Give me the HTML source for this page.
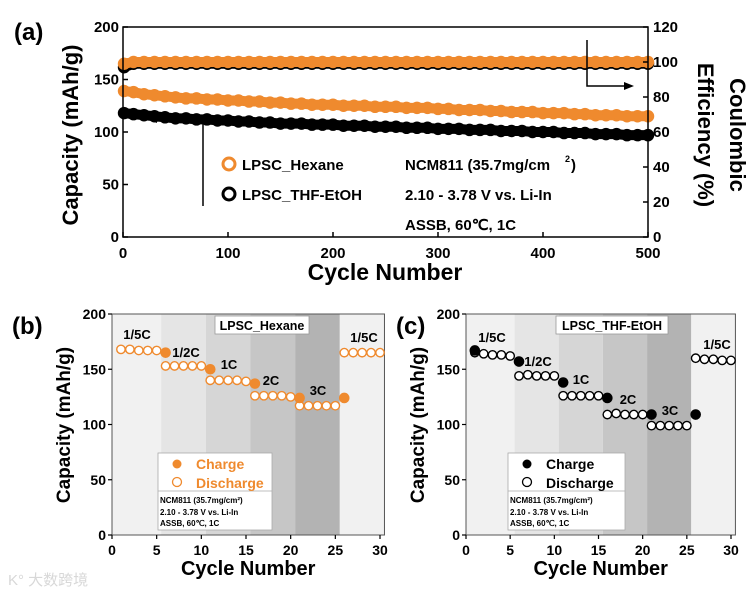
<!DOCTYPE html>
<html><head><meta charset="utf-8"><style>
html,body{margin:0;padding:0;background:#fff;}
svg{display:block;font-family:"Liberation Sans",Arial,sans-serif;}
</style></head><body>
<svg id="fig" width="754" height="593" viewBox="0 0 754 593" xmlns="http://www.w3.org/2000/svg"></svg>
<script>
// ---------- Panel (a) data ----------
const aCycles = [1,10,20,30,40,50,60,70,80,90,100,110,120,130,140,150,160,170,180,190,200,210,220,230,240,250,260,270,280,290,300,310,320,330,340,350,360,370,380,390,400,410,420,430,440,450,460,470,480,490,500];
const aHexCap = [139,138,136,135,134,133,132,132,131,131,130,130,129,129,128,128,127,127,126,126,126,125,125,125,124,124,124,123,123,123,122,122,121,121,121,120,120,119,119,119,118,118,118,117,117,116,116,116,115,115,115];
const aThfCap = [118,117,116,115,114,113,113,112,112,111,111,110,110,109,109,108,108,108,107,107,107,106,106,106,105,105,105,104,104,104,103,103,103,102,102,102,101,101,101,100,100,100,99,99,99,98,98,98,97,97,97];
const aHexCE = [99,100,100,100,100,100,100,100,100,100,100,100,100,100,100,100,100,100,100,100,100,100,100,100,100,100,100,100,100,100,100,100,100,100,100,100,100,100,100,100,100,100,100,100,100,100,100,100,100,100,100];
const aThfCE = [97,99,99,99,99,99,99,99,99,99,99,99,99,99,99,99,99,99,99,99,99,99,99,99,99,99,99,99,99,99,99,99,99,99,99,99,99,99,99,99,99,99,99,99,99,99,99,99,99,99,99];
const aXTicks = [0,100,200,300,400,500];
const aYTicks = [0,50,100,150,200];
const aY2Ticks = [0,20,40,60,80,100,120];

// ---------- Panel (b)/(c) data ----------
const rCycles = [1,2,3,4,5,6,7,8,9,10,11,12,13,14,15,16,17,18,19,20,21,22,23,24,25,26,27,28,29,30];
const bDischarge = [168,168,167,167,167,153,153,153,153,153,140,140,140,140,139,126,126,126,126,125,117,117,117,117,117,165,165,165,165,165];
const bChargeCycles = [6,11,16,21,26];
const bCharge = [165,150,137,124,124];
const cDischarge = [165,164,163,163,162,144,145,144,144,144,126,126,126,126,126,109,110,109,109,109,99,99,99,99,99,160,159,159,158,158];
const cChargeCycles = [1,6,11,16,21,26];
const cCharge = [167,157,138,124,109,109];
const rXTicks = [0,5,10,15,20,25,30];
const rYTicks = [0,50,100,150,200];
const rateLabels = ["1/5C","1/2C","1C","2C","3C","1/5C"];

const NS="http://www.w3.org/2000/svg";
const svg=document.getElementById('fig');
function el(tag,attrs,parent,text){const e=document.createElementNS(NS,tag);for(const k in attrs)e.setAttribute(k,attrs[k]);if(text!==undefined)e.textContent=text;(parent||svg).appendChild(e);return e;}
const OR="#ef8a2e";

// ===== Panel (a) =====
const A={x0:123,x1:648,y0:237,y1:27};
const ax=v=>A.x0+(v/500)*(A.x1-A.x0);
const ay=v=>A.y0-(v/200)*(A.y0-A.y1);
const ay2=v=>A.y0-(v/120)*(A.y0-A.y1);
const gA=el('g',{});


function band(xs,ys,fx,fy,color,name,g){
  const pl=el('polyline',{points:xs.map((c,i)=>fx(c)+','+fy(ys[i])).join(' '),fill:'none',stroke:color,'stroke-width':10,'stroke-linejoin':'round','stroke-linecap':'round'},g);
  
  
  xs.forEach((c,i)=>{const m=el('circle',{cx:fx(c),cy:fy(ys[i]),r:5,fill:'none',stroke:color,'stroke-width':2.5},g);
    
    });
}
band(aCycles,aThfCE,ax,ay2,'#000','thf-efficiency',gA);
band(aCycles,aHexCE,ax,ay2,OR,'hexane-efficiency',gA);
band(aCycles,aThfCap,ax,ay,'#000','thf-capacity',gA);
band(aCycles,aHexCap,ax,ay,OR,'hexane-capacity',gA);
el('rect',{x:A.x0,y:A.y1,width:A.x1-A.x0,height:A.y0-A.y1,fill:'none',stroke:'#000','stroke-width':1.5},gA);
aXTicks.forEach(t=>{el('line',{x1:ax(t),x2:ax(t),y1:A.y0,y2:A.y0-5,stroke:'#000','stroke-width':1.5},gA);
  const l=el('text',{x:ax(t),y:A.y0+21,'text-anchor':'middle','font-size':15,'font-weight':'bold'},gA,t);
  });
aYTicks.forEach(t=>{el('line',{x1:A.x0,x2:A.x0+5,y1:ay(t),y2:ay(t),stroke:'#000','stroke-width':1.5},gA);
  const l=el('text',{x:A.x0-4,y:ay(t)+5,'text-anchor':'end','font-size':15,'font-weight':'bold'},gA,t);
  });
aY2Ticks.forEach(t=>{el('line',{x1:A.x1,x2:A.x1-5,y1:ay2(t),y2:ay2(t),stroke:'#000','stroke-width':1.5},gA);
  const l=el('text',{x:A.x1+5,y:ay2(t)+5,'text-anchor':'start','font-size':15,'font-weight':'bold'},gA,t);
  });
let t;
t=el('text',{x:0,y:0,transform:'translate(78,135) rotate(-90)','text-anchor':'middle','font-size':22,'font-weight':'bold'},gA,'Capacity (mAh/g)');

t=el('text',{x:0,y:0,transform:'translate(730,135) rotate(90)','text-anchor':'middle','font-size':22,'font-weight':'bold'},gA,'Coulombic');

t=el('text',{x:0,y:0,transform:'translate(698,135) rotate(90)','text-anchor':'middle','font-size':22,'font-weight':'bold'},gA,'Efficiency (%)');

t=el('text',{x:385,y:280,'text-anchor':'middle','font-size':23,'font-weight':'bold'},gA,'Cycle Number');

t=el('text',{x:14,y:40,'font-size':24,'font-weight':'bold'},gA,'(a)');

// arrows
el('polyline',{points:'203,206 203,119 156,119',fill:'none',stroke:'#000','stroke-width':1.5},gA);
el('polygon',{points:'147,119 157,115 157,123',fill:'#000'},gA);
el('polyline',{points:'587,40 587,86 625,86',fill:'none',stroke:'#000','stroke-width':1.5},gA);
el('polygon',{points:'634,86 624,82 624,90',fill:'#000'},gA);
// legend
t=el('circle',{cx:229,cy:164,r:6,fill:'none',stroke:OR,'stroke-width':3},gA);

t=el('text',{x:242,y:170,'font-size':15,'font-weight':'bold'},gA,'LPSC_Hexane');

t=el('circle',{cx:229,cy:194,r:6,fill:'none',stroke:'#000','stroke-width':3},gA);

t=el('text',{x:242,y:200,'font-size':15,'font-weight':'bold'},gA,'LPSC_THF-EtOH');

t=el('text',{x:405,y:170,'font-size':15,'font-weight':'bold'},gA,'NCM811 (35.7mg/cm');

el('text',{x:565,y:162,'font-size':9,'font-weight':'bold'},gA,'2');
el('text',{x:571,y:170,'font-size':15,'font-weight':'bold'},gA,')');
t=el('text',{x:405,y:200,'font-size':15,'font-weight':'bold'},gA,'2.10 - 3.78 V vs. Li-In');

t=el('text',{x:405,y:230,'font-size':15,'font-weight':'bold'},gA,'ASSB, 60℃, 1C');


// ===== Rate panels =====
function ratePanel(P,disc,chCyc,ch,color,title,labelPos,panelLetter,name){
  const g=el('g',{});
  
  
  const fx=v=>P.x0+(v/30)*(P.x30-P.x0);
  const fy=v=>P.y0-(v/200)*(P.y0-P.y1);
  const shades=['#f1f1f1','#e5e5e5','#d6d6d6','#c6c6c6','#b3b3b3','#f1f1f1'];
  const edges=[0,5.5,10.5,15.5,20.5,25.5,30.5];
  for(let i=0;i<6;i++){const r=el('rect',{x:fx(edges[i]),y:P.y1,width:fx(edges[i+1])-fx(edges[i]),height:P.y0-P.y1,fill:shades[i]},g);
    }
  el('rect',{x:P.x0,y:P.y1,width:fx(30.5)-P.x0,height:P.y0-P.y1,fill:'none',stroke:'#555','stroke-width':1},g);
  rXTicks.forEach(v=>{el('line',{x1:fx(v),x2:fx(v),y1:P.y0,y2:P.y0+4,stroke:'#000','stroke-width':1.2},g);
    const l=el('text',{x:fx(v),y:P.y0+20,'text-anchor':'middle','font-size':14,'font-weight':'bold'},g,v);
    });
  rYTicks.forEach(v=>{el('line',{x1:P.x0,x2:P.x0-4,y1:fy(v),y2:fy(v),stroke:'#000','stroke-width':1.2},g);
    const l=el('text',{x:P.x0-6,y:fy(v)+5,'text-anchor':'end','font-size':14,'font-weight':'bold'},g,v);
    });
  rCycles.forEach((c,i)=>{const m=el('circle',{cx:fx(c),cy:fy(disc[i]),r:4.2,fill:'#fff',stroke:color,'stroke-width':1.4},g);
    });
  chCyc.forEach((c,i)=>{const m=el('circle',{cx:fx(c),cy:fy(ch[i]),r:4.8,fill:color,stroke:color,'stroke-width':1},g);
    });
  const tb=el('rect',{x:P.tbx,y:P.y1+2,width:P.tbw,height:18,fill:'#fff',stroke:'#999','stroke-width':0.8},g);
  
  let tt=el('text',{x:P.tbx+P.tbw/2,y:P.y1+16,'text-anchor':'middle','font-size':12.5,'font-weight':'bold'},g,title);
  
  rateLabels.forEach((s,i)=>{const l=el('text',{x:labelPos[i][0],y:labelPos[i][1],'text-anchor':'middle','font-size':13,'font-weight':'bold'},g,s);
    });
  const lb=el('rect',{x:P.lx,y:453,width:P.lw,height:77,fill:'#fff',stroke:'#aaa','stroke-width':0.8},g);
  
  el('line',{x1:P.lx,x2:P.lx+P.lw,y1:491,y2:491,stroke:'#aaa','stroke-width':0.8},g);
  el('circle',{cx:P.lx+19,cy:464,r:4.5,fill:color},g);
  el('circle',{cx:P.lx+19,cy:482,r:4.5,fill:'#fff',stroke:color,'stroke-width':1.3},g);
  tt=el('text',{x:P.lx+38,y:469,'font-size':14,'font-weight':'bold',fill:P.lcol},g,'Charge');
  
  tt=el('text',{x:P.lx+38,y:488,'font-size':14,'font-weight':'bold',fill:P.lcol},g,'Discharge');
  
  el('text',{x:P.lx+2,y:503,'font-size':8,'font-weight':'bold'},g,'NCM811 (35.7mg/cm²)');
  el('text',{x:P.lx+2,y:515,'font-size':8,'font-weight':'bold'},g,'2.10 - 3.78 V vs. Li-In');
  el('text',{x:P.lx+2,y:526,'font-size':8,'font-weight':'bold'},g,'ASSB, 60℃, 1C');
  tt=el('text',{x:0,y:0,transform:'translate('+(P.x0-42)+',425) rotate(-90)','text-anchor':'middle','font-size':19,'font-weight':'bold'},g,'Capacity (mAh/g)');
  
  tt=el('text',{x:(P.x0+fx(30.5))/2,y:575,'text-anchor':'middle','font-size':20,'font-weight':'bold'},g,'Cycle Number');
  
  tt=el('text',{x:P.plx,y:P.y1+20,'font-size':24,'font-weight':'bold'},g,panelLetter);
  
}
ratePanel({x0:112,x30:380,y0:535,y1:314,tbx:215,tbw:94,lx:158,lw:114,lcol:OR,plx:12},bDischarge,bChargeCycles,bCharge,OR,'LPSC_Hexane',
  [[137,339],[186,357],[229,369],[271,385],[318,395],[364,342]],'(b)','panel-b');
ratePanel({x0:466,x30:731,y0:535,y1:314,tbx:556,tbw:112,lx:508,lw:117,lcol:'#000',plx:396},cDischarge,cChargeCycles,cCharge,'#000','LPSC_THF-EtOH',
  [[492,342],[538,366],[581,384],[628,404],[670,415],[717,349]],'(c)','panel-c');
const wm=el('text',{x:8,y:585,'font-size':15,fill:'#d8d8d8','font-family':'"Liberation Sans","Noto Sans CJK SC",sans-serif'},svg,'K° 大数跨境');


</script>
</body></html>
